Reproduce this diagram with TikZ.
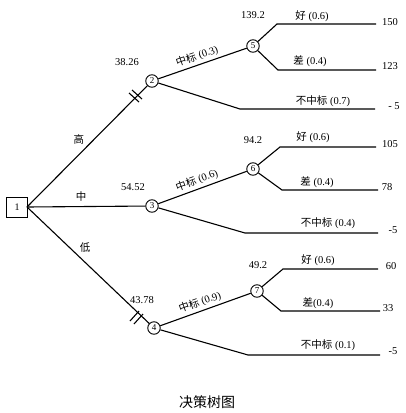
\documentclass[tikz,border=0pt]{standalone}
\usepackage{fontspec}
\setmainfont{Liberation Serif}
\newfontfamily\cjk{Noto Sans CJK SC}
\begin{document}
\begin{tikzpicture}[x=1pt,y=-1pt,
  br/.style={line width=1.1pt},
  chance/.style={circle,draw,line width=0.9pt,inner sep=0pt,minimum size=12.5pt,font=\fontsize{9}{9}\selectfont},
  decbox/.style={rectangle,draw,line width=0.9pt,inner sep=0pt,minimum width=21pt,minimum height=20pt,font=\fontsize{10}{10}\selectfont},
  lab/.style={font=\fontsize{10.5}{11}\selectfont,inner sep=1pt},
  slab/.style={font=\fontsize{10.5}{11}\selectfont,inner sep=0.5pt,above=2pt,sloped,pos=0.47}]
\useasboundingbox (0,0) rectangle (406,413);
% nodes
\node[decbox] (n1) at (17,207) {1};
\coordinate (o1) at (27,207);
\node[chance] (n2) at (152,81) {2};
\node[chance] (n3) at (152,206) {3};
\node[chance] (n4) at (154,328) {4};
\node[chance] (n5) at (253,46) {5};
\node[chance] (n6) at (253,169) {6};
\node[chance] (n7) at (257,291) {7};
% knees and ends
\coordinate (k5a) at (277,24);  \coordinate (e5a) at (376,24);
\coordinate (k5b) at (278,70);  \coordinate (e5b) at (376,70);
\coordinate (k2b) at (240,109); \coordinate (e2b) at (375,109);
\coordinate (k6a) at (280,147); \coordinate (e6a) at (376,147);
\coordinate (k6b) at (282,190); \coordinate (e6b) at (378,190);
\coordinate (k3b) at (245,233); \coordinate (e3b) at (378,233);
\coordinate (k7a) at (283,269); \coordinate (e7a) at (378,269);
\coordinate (k7b) at (281,311); \coordinate (e7b) at (380,311);
\coordinate (k4b) at (248,355); \coordinate (e4b) at (380,355);
% decision branches
\draw[br] (o1) -- (n2);
\draw[br] (o1) -- (n3);
\draw[br] (o1) -- (n4);
% chance branches
\draw[br] (n2) -- (n5) node[slab] {{\cjk 中标} (0.3)};
\draw[br] (n3) -- (n6) node[slab] {{\cjk 中标} (0.6)};
\draw[br] (n4) -- (n7) node[slab] {{\cjk 中标} (0.9)};
\draw[br] (n2) -- (k2b) -- (e2b);
\draw[br] (n3) -- (k3b) -- (e3b);
\draw[br] (n4) -- (k4b) -- (e4b);
\draw[br] (n5) -- (k5a) -- (e5a);
\draw[br] (n5) -- (k5b) -- (e5b);
\draw[br] (n6) -- (k6a) -- (e6a);
\draw[br] (n6) -- (k6b) -- (e6b);
\draw[br] (n7) -- (k7a) -- (e7a);
\draw[br] (n7) -- (k7b) -- (e7b);
% pruning marks
\coordinate (p2) at (135,97);
\coordinate (p4) at (137,317);
\draw[br] ([shift={(-6,-4)}]p2) -- ([shift={(4,5)}]p2);
\draw[br] ([shift={(-3,-7)}]p2) -- ([shift={(7,2)}]p2);
\draw[br] ([shift={(-7,4)}]p4) -- ([shift={(2,-6)}]p4);
\draw[br] ([shift={(-3,7)}]p4) -- ([shift={(6,-3)}]p4);
% branch labels of decision
\node[lab] (lh) at (79,139) {\cjk 高};
\node[lab] (lz) at (81,197) {\cjk 中};
\node[lab] (ld) at (85,248) {\cjk 低};
% expected values
\node[lab] (v2) at (127,62) {38.26};
\node[lab] (v3) at (133,187) {54.52};
\node[lab] (v4) at (142,300) {43.78};
\node[lab] (v5) at (253,15) {139.2};
\node[lab] (v6) at (253,140) {94.2};
\node[lab] (v7) at (258,265) {49.2};
% outcome labels
\node[lab] (o5a) at (312,16) {{\cjk 好} (0.6)};
\node[lab] (o5b) at (310,61) {{\cjk 差} (0.4)};
\node[lab] (o2b) at (323,101) {{\cjk 不中标} (0.7)};
\node[lab] (o6a) at (313,137) {{\cjk 好} (0.6)};
\node[lab] (o6b) at (317,182) {{\cjk 差} (0.4)};
\node[lab] (o3b) at (328,223) {{\cjk 不中标} (0.4)};
\node[lab] (o7a) at (318,260) {{\cjk 好} (0.6)};
\node[lab] (o7b) at (318,303) {{\cjk 差}(0.4)};
\node[lab] (o4b) at (328,345) {{\cjk 不中标} (0.1)};
% payoffs
\node[lab] (r5a) at (390,22) {150};
\node[lab] (r5b) at (390,66) {123};
\node[lab] (r2b) at (394,106) {- 5};
\node[lab] (r6a) at (390,144) {105};
\node[lab] (r6b) at (387,187) {78};
\node[lab] (r3b) at (393,230) {-5};
\node[lab] (r7a) at (391,266) {60};
\node[lab] (r7b) at (388,308) {33};
\node[lab] (r4b) at (393,351) {-5};
% title
\node[font=\fontsize{14}{15}\selectfont] (title) at (207,402) {\cjk 决策树图};
\end{tikzpicture}
\end{document}
